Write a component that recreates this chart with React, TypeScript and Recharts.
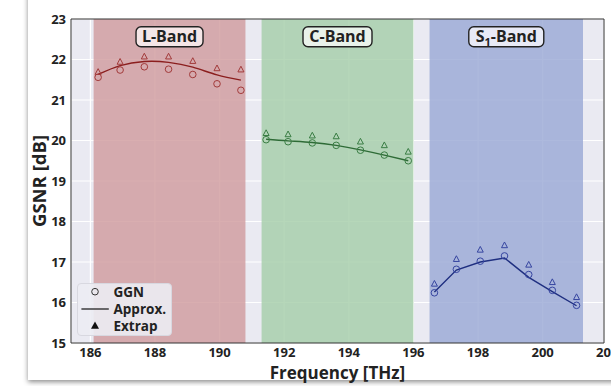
import { ComposedChart, Line, Scatter, XAxis, YAxis, CartesianGrid, ReferenceArea, Legend } from 'recharts'

const FONT = '"Open Sans", sans-serif'

// frequencies [THz] for each band
const lFreq = [186.24, 186.92, 187.67, 188.42, 189.17, 189.92, 190.66]
const cFreq = [191.44, 192.12, 192.87, 193.61, 194.36, 195.1, 195.84]
const sFreq = [196.65, 197.33, 198.07, 198.82, 199.57, 200.3, 201.05]

// GSNR [dB] - GGN model
const lGgn = [21.56, 21.74, 21.82, 21.76, 21.63, 21.4, 21.24]
const cGgn = [20.02, 19.97, 19.94, 19.88, 19.76, 19.64, 19.5]
const sGgn = [16.24, 16.82, 17.02, 17.15, 16.69, 16.3, 15.93]

// approximation
const lApprox = [21.63, 21.85, 21.95, 21.93, 21.81, 21.62, 21.49]
const cApprox = [20.03, 19.99, 19.95, 19.88, 19.77, 19.64, 19.5]
const sApprox = [16.26, 16.8, 17.0, 17.1, 16.62, 16.27, 15.92]

// extrapolated
const lExtrap = [21.69, 21.94, 22.07, 22.07, 21.96, 21.78, 21.75]
const cExtrap = [20.18, 20.15, 20.12, 20.1, 19.97, 19.88, 19.72]
const sExtrap = [16.46, 17.07, 17.3, 17.41, 16.93, 16.5, 16.13]

// band edges [THz]
const bandStart = [186.1, 191.3, 196.5]
const bandEnd = [190.8, 196.0, 201.25]

const xTicks = [186, 188, 190, 192, 194, 196, 198, 200, 202]
const yTicks = [15, 16, 17, 18, 19, 20, 21, 22, 23]

const toRows = (f: number[], ggn: number[], approx: number[], extrap: number[]) =>
  f.map((v, i) => ({ f: v, ggn: ggn[i], approx: approx[i], extrap: extrap[i] }))

const lData = toRows(lFreq, lGgn, lApprox, lExtrap)
const cData = toRows(cFreq, cGgn, cApprox, cExtrap)
const sData = toRows(sFreq, sGgn, sApprox, sExtrap)

const circleShape = (color: string) => (p: any) =>
  <circle cx={p.cx} cy={p.cy} r={3.3} fill="none" stroke={color} strokeWidth={1} />

const triShape = (color: string) => (p: any) =>
  <path d={`M${p.cx},${p.cy - 3.4} L${p.cx + 3},${p.cy + 2.3} L${p.cx - 3},${p.cy + 2.3} Z`} fill="none" stroke={color} strokeWidth={1} />

function BandLabel(props: any) {
  const { viewBox, w, fill, children } = props
  const cx = viewBox.x + viewBox.width / 2
  const top = viewBox.y + 7.7
  const h = 20
  return (
    <g>
      <rect x={cx - w / 2} y={top} width={w} height={h} rx={5} fill={fill} stroke="#222" strokeWidth={1.4} />
      <text x={cx} y={top + h / 2 + 5.5} textAnchor="middle" fontFamily={FONT} fontWeight={700} fontSize={16} fill="#222">
        {children}
      </text>
    </g>
  )
}

function YLabel({ viewBox }: any) {
  const x = viewBox.x + 38
  const y = viewBox.y + viewBox.height / 2
  return (
    <text x={x} y={y} transform={`rotate(-90 ${x} ${y})`} textAnchor="middle" dominantBaseline="central"
      fontFamily={FONT} fontWeight={700} fontSize={18.5} fill="#222">GSNR [dB]</text>
  )
}

function XLabel({ viewBox }: any) {
  return (
    <text x={viewBox.x + viewBox.width / 2} y={viewBox.y + 36} textAnchor="middle"
      fontFamily={FONT} fontWeight={700} fontSize={17} fill="#222">Frequency [THz]</text>
  )
}

function LegendBox() {
  return (
    <div style={{ position: 'relative', width: 95, height: 53, background: 'rgba(236,236,243,0.9)', border: '1px solid #d8d8e0', borderRadius: 4, boxSizing: 'border-box' }}>
      <svg width={95} height={53} style={{ position: 'absolute', left: -1, top: -1, overflow: 'visible' }}>
        <circle cx={18} cy={8.7} r={3.3} fill="none" stroke="#333" strokeWidth={1} />
        <line x1={4.4} x2={31.8} y1={26} y2={26} stroke="#222" strokeWidth={1.3} />
        <path d="M18,38.6 L22,45.8 L14,45.8 Z" fill="#111" />
        <g fontFamily={FONT} fontWeight={700} fontSize={13.5} fill="#222">
          <text x={36.5} y={13.5}>GGN</text>
          <text x={36.5} y={30.5}>Approx.</text>
          <text x={36.5} y={47.5}>Extrap</text>
        </g>
      </svg>
    </div>
  )
}

export default function App() {
  return (
    <div style={{ position: 'absolute', left: 0, top: 0, width: 611, height: 386, background: '#fff', overflow: 'hidden', fontFamily: FONT }}>
      <div style={{ position: 'absolute', left: 28, top: -10, width: 600, height: 390, background: '#fff', boxShadow: '0 2px 5px rgba(0,0,0,0.45)' }} />
      <div style={{ position: 'absolute', left: 0, top: 0 }}>
        <ComposedChart width={611} height={386} margin={{ top: 19, right: 7, bottom: 0, left: 0 }}>
          <CartesianGrid fill="#eaeaf2" stroke="#ffffff" strokeWidth={1.2} />
          <XAxis type="number" dataKey="f" domain={[185.4, 201.9]} allowDataOverflow ticks={xTicks} interval={0}
            height={43} tickLine={false} axisLine={false} tickSize={0} tickMargin={5}
            tick={{ fontSize: 13, fontWeight: 700, fill: '#222', fontFamily: FONT }}
            label={<XLabel />} />
          <YAxis type="number" domain={[15, 23]} ticks={yTicks} interval={0} width={71}
            tickLine={false} axisLine={false} tickSize={0} tickMargin={5}
            tick={{ fontSize: 13, fontWeight: 700, fill: '#222', fontFamily: FONT }}
            label={<YLabel />} />
          <ReferenceArea x1={bandStart[0]} x2={bandEnd[0]} fill="#cf9a9c" fillOpacity={0.8} stroke="none"
            label={<BandLabel w={67} fill="#f5e6e7">L-Band</BandLabel>} />
          <ReferenceArea x1={bandStart[1]} x2={bandEnd[1]} fill="#a4cda7" fillOpacity={0.8} stroke="none"
            label={<BandLabel w={69} fill="#e9f2ea">C-Band</BandLabel>} />
          <ReferenceArea x1={bandStart[2]} x2={bandEnd[2]} fill="#99a8d4" fillOpacity={0.8} stroke="none"
            label={<BandLabel w={75} fill="#e8eaf6"><tspan>S</tspan><tspan fontSize={11} dy={4}>1</tspan><tspan dy={-4}>-Band</tspan></BandLabel>} />
          <ReferenceArea x1={185.4} x2={201.9} y1={15} y2={23} fill="none" stroke="#333" strokeWidth={1} />

          <Line data={lData} dataKey="approx" type="natural" stroke="#8b1e1e" strokeWidth={1.4} dot={false} isAnimationActive={false} />
          <Line data={cData} dataKey="approx" type="natural" stroke="#2e6b36" strokeWidth={1.4} dot={false} isAnimationActive={false} />
          <Line data={sData} dataKey="approx" type="linear" stroke="#1f2f80" strokeWidth={1.4} dot={false} isAnimationActive={false} />

          <Scatter data={lData} dataKey="ggn" shape={circleShape('#a23a3a')} isAnimationActive={false} />
          <Scatter data={cData} dataKey="ggn" shape={circleShape('#3a7d44')} isAnimationActive={false} />
          <Scatter data={sData} dataKey="ggn" shape={circleShape('#3645a0')} isAnimationActive={false} />
          <Scatter data={lData} dataKey="extrap" shape={triShape('#a23a3a')} isAnimationActive={false} />
          <Scatter data={cData} dataKey="extrap" shape={triShape('#3a7d44')} isAnimationActive={false} />
          <Scatter data={sData} dataKey="extrap" shape={triShape('#3645a0')} isAnimationActive={false} />

          <Legend layout="vertical" align="center" verticalAlign="middle" content={<LegendBox />}
            wrapperStyle={{ left: 77, top: 283, width: 95, height: 53 }} />
        </ComposedChart>
      </div>
    </div>
  )
}
